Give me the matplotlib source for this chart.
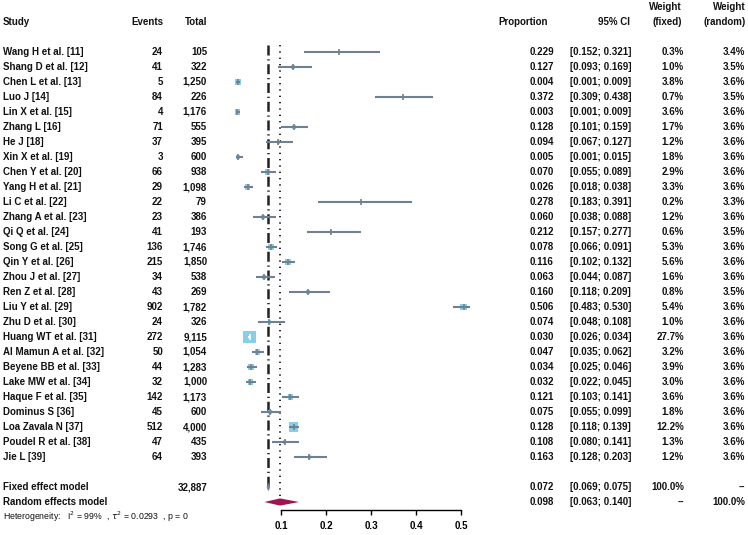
import numpy as np
import matplotlib
matplotlib.use("Agg")
import matplotlib.pyplot as plt
from matplotlib import transforms
from matplotlib import font_manager

studies = ["Wang H et al. [11]", "Shang D et al. [12]", "Chen L et al. [13]", "Luo J [14]",
           "Lin X et al. [15]", "Zhang L [16]", "He J [18]", "Xin X et al. [19]",
           "Chen Y et al. [20]", "Yang H et al. [21]", "Li C et al. [22]", "Zhang A et al. [23]",
           "Qi Q et al. [24]", "Song G et al. [25]", "Qin Y et al. [26]", "Zhou J et al. [27]",
           "Ren Z et al. [28]", "Liu Y et al. [29]", "Zhu D et al. [30]", "Huang WT et al. [31]",
           "Al Mamun A et al. [32]", "Beyene BB et al. [33]", "Lake MW et al. [34]",
           "Haque F et al. [35]", "Dominus S [36]", "Loa Zavala N [37]", "Poudel R et al. [38]",
           "Jie L [39]"]
events = [24, 41, 5, 84, 4, 71, 37, 3, 66, 29, 22, 23, 41, 136, 215, 34, 43, 902, 24, 272,
          50, 44, 32, 142, 45, 512, 47, 64]
totals = [105, 322, 1250, 226, 1176, 555, 395, 600, 938, 1098, 79, 386, 193, 1746, 1850, 538,
          269, 1782, 326, 9115, 1054, 1283, 1000, 1173, 600, 4000, 435, 393]
prop = [0.229, 0.127, 0.004, 0.372, 0.003, 0.128, 0.094, 0.005, 0.070, 0.026, 0.278, 0.060,
        0.212, 0.078, 0.116, 0.063, 0.160, 0.506, 0.074, 0.030, 0.047, 0.034, 0.032, 0.121,
        0.075, 0.128, 0.108, 0.163]
ci_lo = [0.152, 0.093, 0.001, 0.309, 0.001, 0.101, 0.067, 0.001, 0.055, 0.018, 0.183, 0.038,
         0.157, 0.066, 0.102, 0.044, 0.118, 0.483, 0.048, 0.026, 0.035, 0.025, 0.022, 0.103,
         0.055, 0.118, 0.080, 0.128]
ci_hi = [0.321, 0.169, 0.009, 0.438, 0.009, 0.159, 0.127, 0.015, 0.089, 0.038, 0.391, 0.088,
         0.277, 0.091, 0.132, 0.087, 0.209, 0.530, 0.108, 0.034, 0.062, 0.046, 0.045, 0.141,
         0.099, 0.139, 0.141, 0.203]
w_fixed = [0.3, 1.0, 3.8, 0.7, 3.6, 1.7, 1.2, 1.8, 2.9, 3.3, 0.2, 1.2, 0.6, 5.3, 5.6, 1.6, 0.8,
           5.4, 1.0, 27.7, 3.2, 3.9, 3.0, 3.6, 1.8, 12.2, 1.3, 1.2]
w_random = [3.4, 3.5, 3.6, 3.5, 3.6, 3.6, 3.6, 3.6, 3.6, 3.6, 3.3, 3.6, 3.5, 3.6, 3.6, 3.6, 3.5,
            3.6, 3.6, 3.6, 3.6, 3.6, 3.6, 3.6, 3.6, 3.6, 3.6, 3.6]

fixed_est, fixed_lo, fixed_hi = 0.072, 0.069, 0.075
random_est, random_lo, random_hi = 0.098, 0.063, 0.140
xticks = [0.1, 0.2, 0.3, 0.4, 0.5]

# font: narrow sans if available
names = {f.name for f in font_manager.fontManager.ttflist}
fam = "Liberation Sans Narrow" if "Liberation Sans Narrow" in names else "Liberation Sans"
plt.rcParams["font.family"] = [fam, "DejaVu Sans"]
plt.rcParams["font.size"] = 7

W, H = 748, 535
fig = plt.figure(figsize=(W / 100, H / 100), dpi=100)

# forest panel: x pixel 230..470, y pixel 0..510
ax = fig.add_axes([230 / W, (H - 510) / H, 240 / W, 510 / H])
ax.set_xlim((230 - 236) / 450, (470 - 236) / 450)
ax.set_ylim((510 - 37) / 15, (0 - 37) / 15)

square_col = "#87CEEB"
line_col = "#708090"
n = len(studies)
rows = np.arange(1, n + 1)

# squares sized by fixed weight
side_px = 12.5 * (np.array(w_fixed) / max(w_fixed)) ** 0.4
ax.scatter(prop, rows, marker="s", s=(side_px * 0.72) ** 2, color=square_col,
           linewidths=0, zorder=2)
for i in range(n):
    inside = (ci_hi[i] - ci_lo[i]) * 450 < 0.6 * side_px[i]
    c = "white" if inside else line_col
    ax.plot([ci_lo[i], ci_hi[i]], [rows[i], rows[i]], color=c, lw=1.5, zorder=3,
            solid_capstyle="butt")
    ax.plot(prop[i], rows[i], marker="|", ms=4, mew=1.2, color=c, zorder=3)

# reference lines
fixed_row = n + 2
random_row = n + 3
ax.plot([fixed_est, fixed_est], [0.53, fixed_row - 0.1], color="#222222", lw=1.8,
        linestyle=(0, (4, 1.5, 0.5, 1.5)), zorder=1)
ax.plot([random_est, random_est], [0.53, random_row - 0.3], color="black", lw=1.2,
        linestyle=(0, (0.8, 3)), zorder=1)

# summary diamonds
h = 0.24
ax.fill([fixed_lo, fixed_est, fixed_hi, fixed_est],
        [fixed_row, fixed_row - h, fixed_row, fixed_row + h], color=line_col, lw=0.5,
        zorder=4)
ax.fill([random_lo, random_est, random_hi, random_est],
        [random_row, random_row - h, random_row, random_row + h], color="#A0144F", lw=0,
        zorder=4)

for s in ["top", "right", "left"]:
    ax.spines[s].set_visible(False)
ax.spines["bottom"].set_bounds(0.1, 0.5)
ax.spines["bottom"].set_linewidth(1.0)
ax.set_yticks([])
ax.set_xticks(xticks)
ax.set_xticklabels([str(t) for t in xticks], fontweight="bold", fontsize=7)
ax.tick_params(axis="x", length=3.6, width=1.0, pad=4.5)
ax.patch.set_alpha(0)

# table text
tr = transforms.blended_transform_factory(fig.transFigure, ax.transData)
kw = dict(transform=tr, va="center", fontsize=7, fontweight="bold", color="#111111")


def put(px, row, s, ha="right", **extra):
    d = dict(kw)
    d.update(extra)
    ax.text(px / W, row, s, ha=ha, **d)


put(3, -1, "Study", ha="left")
put(163, -1, "Events")
put(207, -1, "Total")
put(548, -1, "Proportion")
put(630, -1, "95% CI")
put(682, -2, "Weight")
put(682, -1, "(fixed)")
put(746, -2, "Weight")
put(746, -1, "(random)")

for i in range(n):
    r = rows[i]
    put(3, r, studies[i], ha="left")
    put(163, r, str(events[i]))
    put(207, r, f"{totals[i]:,}")
    put(554, r, f"{prop[i]:.3f}")
    put(631, r, f"[{ci_lo[i]:.3f}; {ci_hi[i]:.3f}]")
    put(684, r, f"{w_fixed[i]:.1f}%")
    put(745, r, f"{w_random[i]:.1f}%")

put(3, fixed_row, "Fixed effect model", ha="left")
put(207, fixed_row, f"{sum(totals):,}")
put(554, fixed_row, f"{fixed_est:.3f}")
put(631, fixed_row, f"[{fixed_lo:.3f}; {fixed_hi:.3f}]")
put(684, fixed_row, "100.0%")
put(745, fixed_row, "--", fontfamily=["Liberation Sans", "DejaVu Sans"])

put(3, random_row, "Random effects model", ha="left")
put(554, random_row, f"{random_est:.3f}")
put(631, random_row, f"[{random_lo:.3f}; {random_hi:.3f}]")
put(684, random_row, "--", fontfamily=["Liberation Sans", "DejaVu Sans"])
put(745, random_row, "100.0%")

put(3, random_row + 1, r"Heterogeneity:   I$^2$ = 99%  , $\tau^2$ = 0.0293  , p = 0",
    ha="left", fontsize=6.3, fontweight="normal")

fig.savefig("out.png", dpi=100, facecolor="white")
